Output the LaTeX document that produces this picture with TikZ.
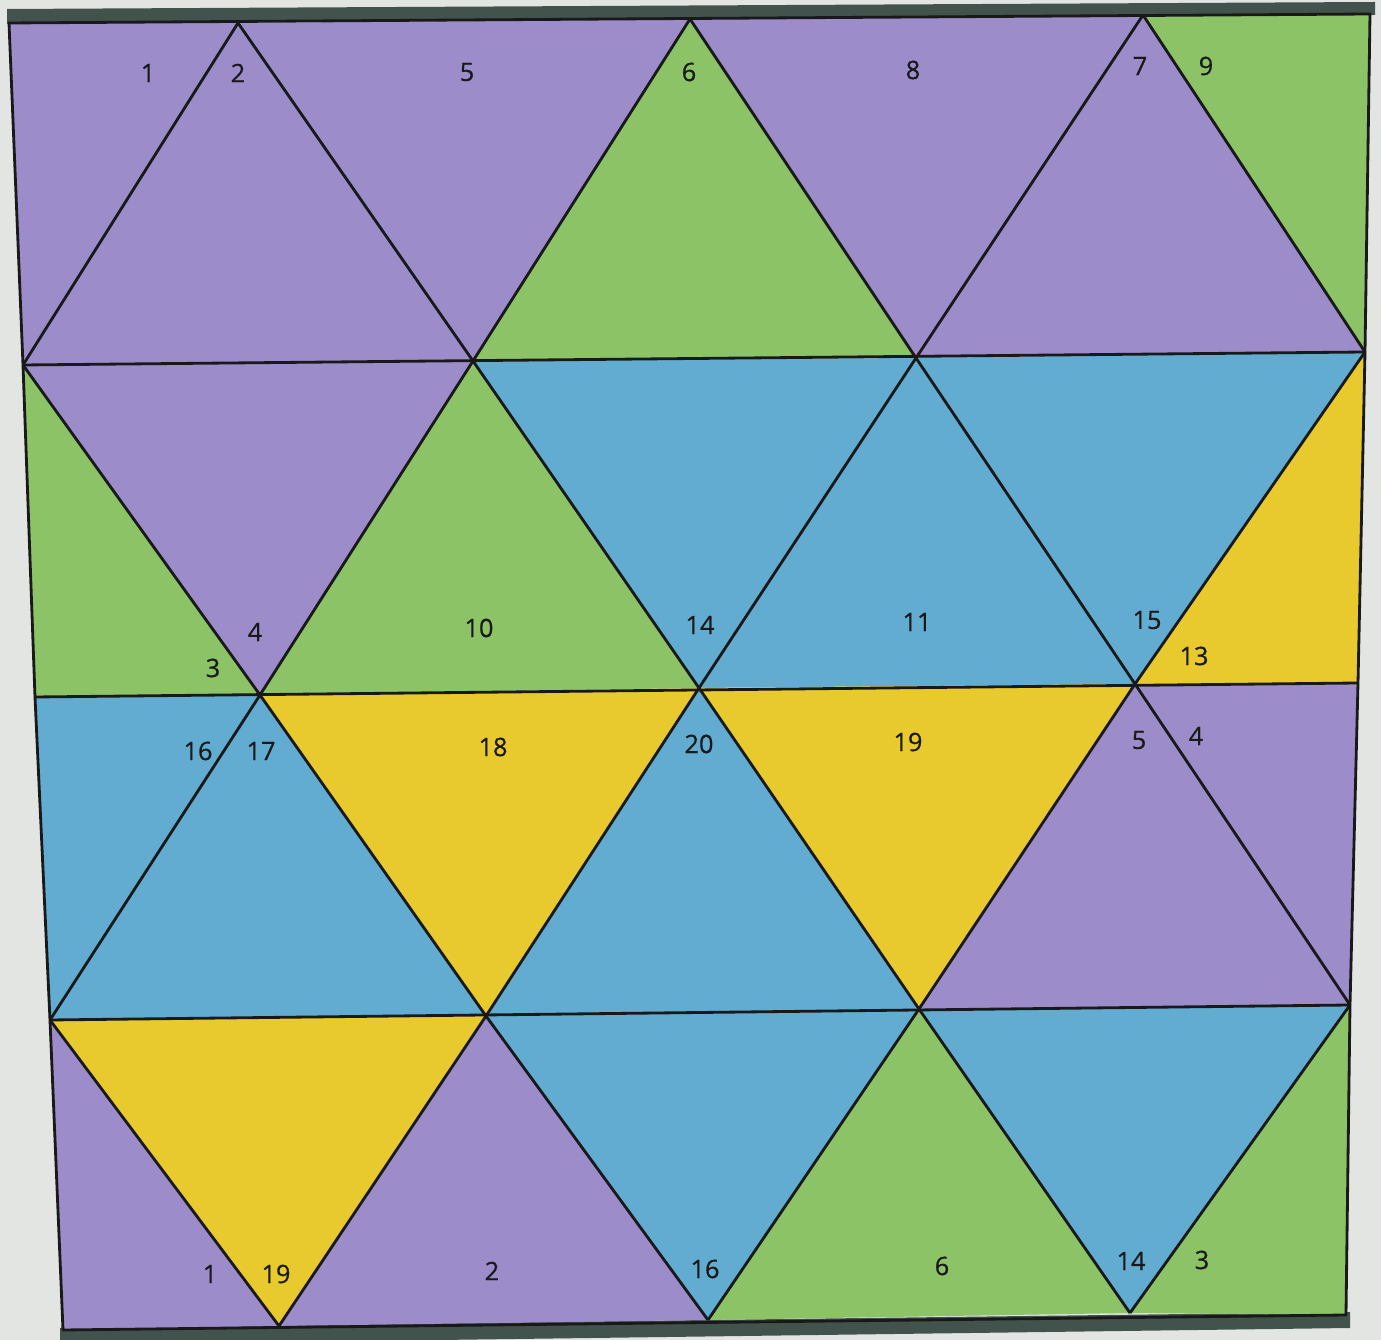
\documentclass[tikz,border=0pt]{standalone}
\usepackage{fontspec}
\newfontfamily\numfont[FakeBold=0.6]{Open Sans}
\usetikzlibrary{positioning}
\definecolor{paper}{RGB}{227,229,227}
\definecolor{band}{RGB}{66,82,77}
\definecolor{lilac}{RGB}{156,140,202}
\definecolor{leaf}{RGB}{140,195,102}
\definecolor{sky}{RGB}{98,172,210}
\definecolor{sun}{RGB}{232,202,46}
\tikzset{
  gridline/.style={draw=black!90, line width=0.8pt, line join=round},
  num/.style={font=\numfont\fontsize{7.2}{8.5}\selectfont, text=black!90, inner sep=0pt},
}

\begin{document}
\begin{tikzpicture}[x=0.01cm,y=-0.01cm]
\useasboundingbox (0,0) rectangle (1381,1340);
\fill[paper] (0,0) rectangle (1381,1340);

% ===================== GRID POINTS (five rows of vertices) =====================
\coordinate (T0) at (9,23);    \coordinate (T1) at (238,23);  \coordinate (T2) at (690,19);
\coordinate (T3) at (1143,15); \coordinate (T4) at (1370,14);
\coordinate (A0) at (23,365);  \coordinate (A1) at (473,361); \coordinate (A2) at (916,358);
\coordinate (A3) at (1365,352);
\coordinate (M0) at (35,697);  \coordinate (M1) at (260,695); \coordinate (M2) at (699,688);
\coordinate (M3) at (1135,684);\coordinate (M4) at (1358,683);
\coordinate (C0) at (50,1020); \coordinate (C1) at (486,1016);\coordinate (C2) at (919,1009);
\coordinate (C3) at (1350,1005);
\coordinate (B0) at (63,1330); \coordinate (B1) at (279,1326);\coordinate (B2) at (708,1320);
\coordinate (B3) at (1130,1313);\coordinate (B4) at (1346,1315);

% ===================== FRAME BANDS =====================
\fill[band] (7,9) -- (1375,2) -- (1375,15) -- (7,24) -- cycle;
\fill[band] (60,1328) -- (1350,1312) -- (1350,1328) -- (60,1345) -- cycle;

% ===================== COLOURED TRIANGLES =====================
\foreach \a/\b/\c/\col in {
  T0/T1/A0/lilac, T1/A0/A1/lilac, T1/T2/A1/lilac, T2/A1/A2/leaf,
  T2/T3/A2/lilac, T3/A2/A3/lilac, T3/T4/A3/leaf,
  A0/M0/M1/leaf, A0/A1/M1/lilac, A1/M1/M2/leaf, A1/A2/M2/sky,
  A2/M2/M3/sky, A2/A3/M3/sky, A3/M3/M4/sun,
  M0/M1/C0/sky, M1/C0/C1/sky, M1/M2/C1/sun, M2/C1/C2/sky,
  M2/M3/C2/sun, M3/C2/C3/lilac, M3/M4/C3/lilac,
  C0/B0/B1/lilac, C0/C1/B1/sun, C1/B1/B2/lilac, C1/C2/B2/sky,
  C2/B2/B3/leaf, C2/C3/B3/sky, C3/B3/B4/leaf}
  \fill[\col] (\a) -- (\b) -- (\c) -- cycle;

% ===================== LINES =====================
\draw[gridline] (T0) -- (T4) -- (A3) -- (M4) -- (C3) -- (B4) -- (B0) -- (C0) -- (M0) -- (A0) -- cycle;
\foreach \p/\q in {A0/A3, M0/M4, C0/C3,
  T1/A0, T1/A1, T2/A1, T2/A2, T3/A2, T3/A3,
  A0/M1, A1/M1, A1/M2, A2/M2, A2/M3, A3/M3,
  M1/C0, M1/C1, M2/C1, M2/C2, M3/C2, M3/C3,
  C0/B1, C1/B1, C1/B2, C2/B2, C2/B3, C3/B3}
  \draw[gridline] (\p) -- (\q);

% ===================== NUMBERS =====================
% top row
\node[num] (r1a) at (148,73) {1};
\node[num] (r1b) at (238,73) {2};
\node[num] (r1c) at (467,72) {5};
\node[num] (r1d) at (689,72) {6};
\node[num] (r1e) at (913,70) {8};
\node[num] (r1f) at (1140,66) {7};
\node[num] (r1g) at (1206,66) {9};
% second row
\node[num] (r2a) at (213,668) {3};
\node[num] (r2b) at (255,632) {4};
\node[num] (r2c) at (479,628) {10};
\node[num] (r2d) at (700,625) {14};
\node[num] (r2e) at (917,622) {11};
\node[num] (r2f) at (1147,620) {15};
\node[num] (r2g) at (1194,656) {13};
% third row
\node[num] (r3a) at (198,751) {16};
\node[num] (r3b) at (261,751) {17};
\node[num] (r3c) at (493,747) {18};
\node[num] (r3d) at (699,744) {20};
\node[num] (r3e) at (908,742) {19};
\node[num] (r3f) at (1139,740) {5};
\node[num] (r3g) at (1196,736) {4};
% bottom row
\node[num] (r4a) at (210,1274) {1};
\node[num] (r4b) at (276,1274) {19};
\node[num] (r4c) at (492,1271) {2};
\node[num] (r4d) at (705,1269) {16};
\node[num] (r4e) at (942,1266) {6};
\node[num] (r4f) at (1131,1261) {14};
\node[num] (r4g) at (1202,1260) {3};

\end{tikzpicture}
\end{document}
